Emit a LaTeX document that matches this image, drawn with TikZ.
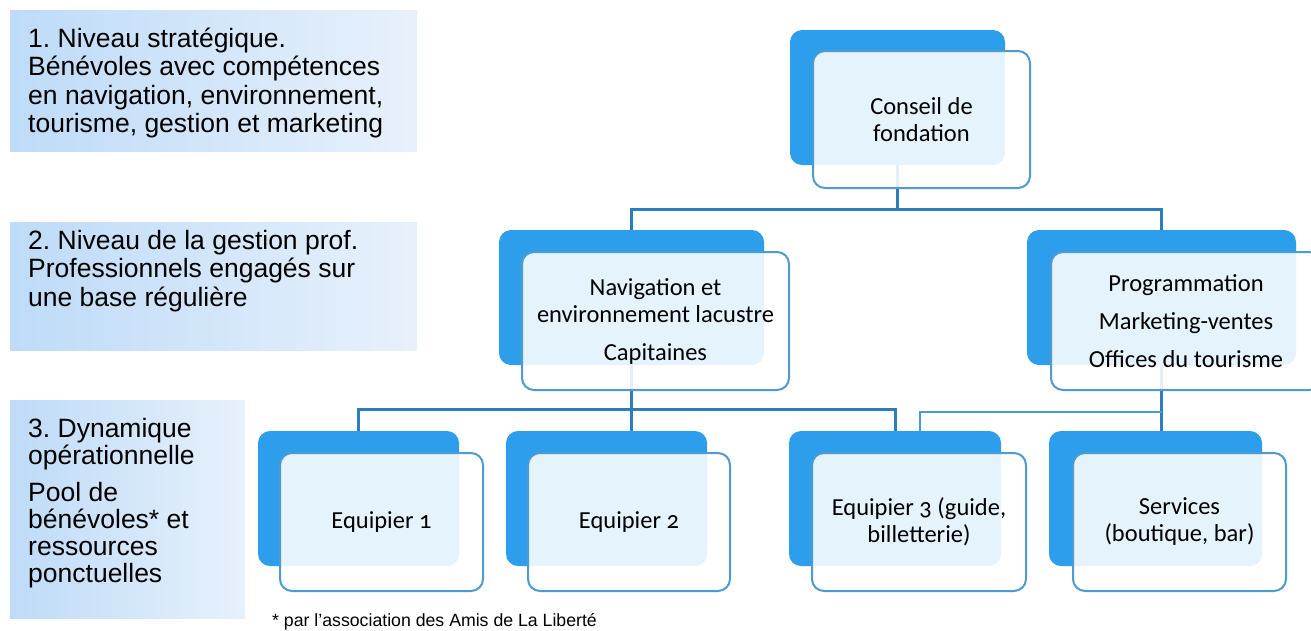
\documentclass[tikz,border=0pt]{standalone}
\usepackage{fontspec}
\setmainfont{Liberation Sans}
\newfontfamily\orgfont[Numbers=OldStyle]{Carlito}
\usetikzlibrary{calc}
\frenchspacing
\definecolor{backblue}{HTML}{2D9EEB}
\definecolor{frontline}{HTML}{4F9AD0}
\definecolor{connblue}{HTML}{2C7DBF}
\definecolor{connlight}{HTML}{4A98D4}
\definecolor{lboxa}{HTML}{BEDBF8}
\definecolor{lboxb}{HTML}{E8F1FB}
\tikzset{
  backbox/.style={fill=backblue, draw=none, rounded corners=12pt, inner sep=0pt},
  frontbox/.style={fill=white, fill opacity=0.88, text opacity=1, draw=frontline, line width=2pt,
    rounded corners=12pt, align=center, inner sep=0pt,
    font=\orgfont\fontsize{24.5}{27}\selectfont},
  conn/.style={draw=connblue, line width=3pt},
  connthin/.style={draw=connlight, line width=2pt},
  lbox/.style={left color=lboxa, right color=lboxb, draw=none, inner sep=0pt},
  ltext/.style={anchor=north west, align=left, inner sep=0pt,
    font=\fontsize{26.5}{28.5}\selectfont},
}
\begin{document}
\begin{tikzpicture}[x=1pt,y=-1pt]
\useasboundingbox (0,0) rectangle (1311,630);
\fill[white] (0,0) rectangle (1311,630);
% left level boxes
\node[lbox, minimum width=407pt, minimum height=141pt] (l1) at (213.5,80.5) {};
\node[lbox, minimum width=407pt, minimum height=128pt] (l2) at (213.5,286) {};
\node[lbox, minimum width=235pt, minimum height=218pt] (l3) at (127.5,509) {};
\node[ltext] (t1) at (28,25) {\rule{0pt}{22pt}1. Niveau stratégique.\\Bénévoles avec compétences\\en navigation, environnement,\\tourisme, gestion et marketing};
\node[ltext] (t2) at (28,227) {\rule{0pt}{22pt}2. Niveau de la gestion prof.\\Professionnels engagés sur\\une base régulière};
\node[ltext, font=\fontsize{26.5}{27}\selectfont] (t3) at (28,415) {\rule{0pt}{22pt}3. Dynamique\\opérationnelle\\[10pt]Pool de\\bénévoles* et\\ressources\\ponctuelles};
% back boxes
\node[backbox, minimum width=215pt, minimum height=135pt] (cb) at (897.5,97.5) {};
\node[backbox, minimum width=265pt, minimum height=135pt] (nb) at (631.5,297.5) {};
\node[backbox, minimum width=269pt, minimum height=135pt] (pb) at (1161.5,297.5) {};
\node[backbox, minimum width=201pt, minimum height=135pt] (e1b) at (358.5,498.5) {};
\node[backbox, minimum width=201pt, minimum height=135pt] (e2b) at (606.5,498.5) {};
\node[backbox, minimum width=212pt, minimum height=135pt] (e3b) at (895,498.5) {};
\node[backbox, minimum width=213pt, minimum height=135pt] (sb) at (1155.5,498.5) {};
% connectors
\coordinate (busT) at (0,209);
\coordinate (busL) at (0,409);
\coordinate (busR) at (0,412);
\coordinate (e3tap) at ($(e3b.north)+(25,0)$);
\draw[conn] (cb.south) -- (cb.south |- busT);
\draw[conn] (nb.north) -- (nb.north |- busT) -- (pb.north |- busT) -- (pb.north);
\draw[conn] (nb.south) -- (nb.south |- e2b.north);
\draw[conn] (e1b.north) -- (e1b.north |- busL) -- (e3b.north |- busL) -- (e3b.north);
\draw[conn] (pb.south) -- (pb.south |- sb.north);
\draw[connthin] (e3tap) -- (e3tap |- busR) -- (pb.south |- busR);
% front boxes
\node[frontbox, minimum width=217pt, minimum height=137pt] (cf) at (921.5,119.5) {Conseil de\\fondation};
\node[frontbox, minimum width=267pt, minimum height=138pt] (nf) at (655.5,321) {Navigation et\\environnement lacustre\\[11pt]Capitaines};
\node[frontbox, minimum width=270pt, minimum height=138pt] (pf) at (1186,321) {Programmation\\[11pt]Marketing-ventes\\[11pt]Offices du tourisme};
\node[frontbox, minimum width=203pt, minimum height=138pt] (e1f) at (381.5,522) {Equipier 1};
\node[frontbox, minimum width=202pt, minimum height=138pt] (e2f) at (629,522) {Equipier 2};
\node[frontbox, minimum width=214pt, minimum height=138pt] (e3f) at (919,522) {Equipier 3 (guide,\\billetterie)};
\node[frontbox, minimum width=213pt, minimum height=138pt] (sf) at (1179.5,522) {Services\\(boutique, bar)};
% footnote
\node[anchor=base west, inner sep=0pt, font=\fontsize{17.7}{20}\selectfont] (fn) at (272,626) {* par l’association des Amis de La Liberté};
\end{tikzpicture}
\end{document}
